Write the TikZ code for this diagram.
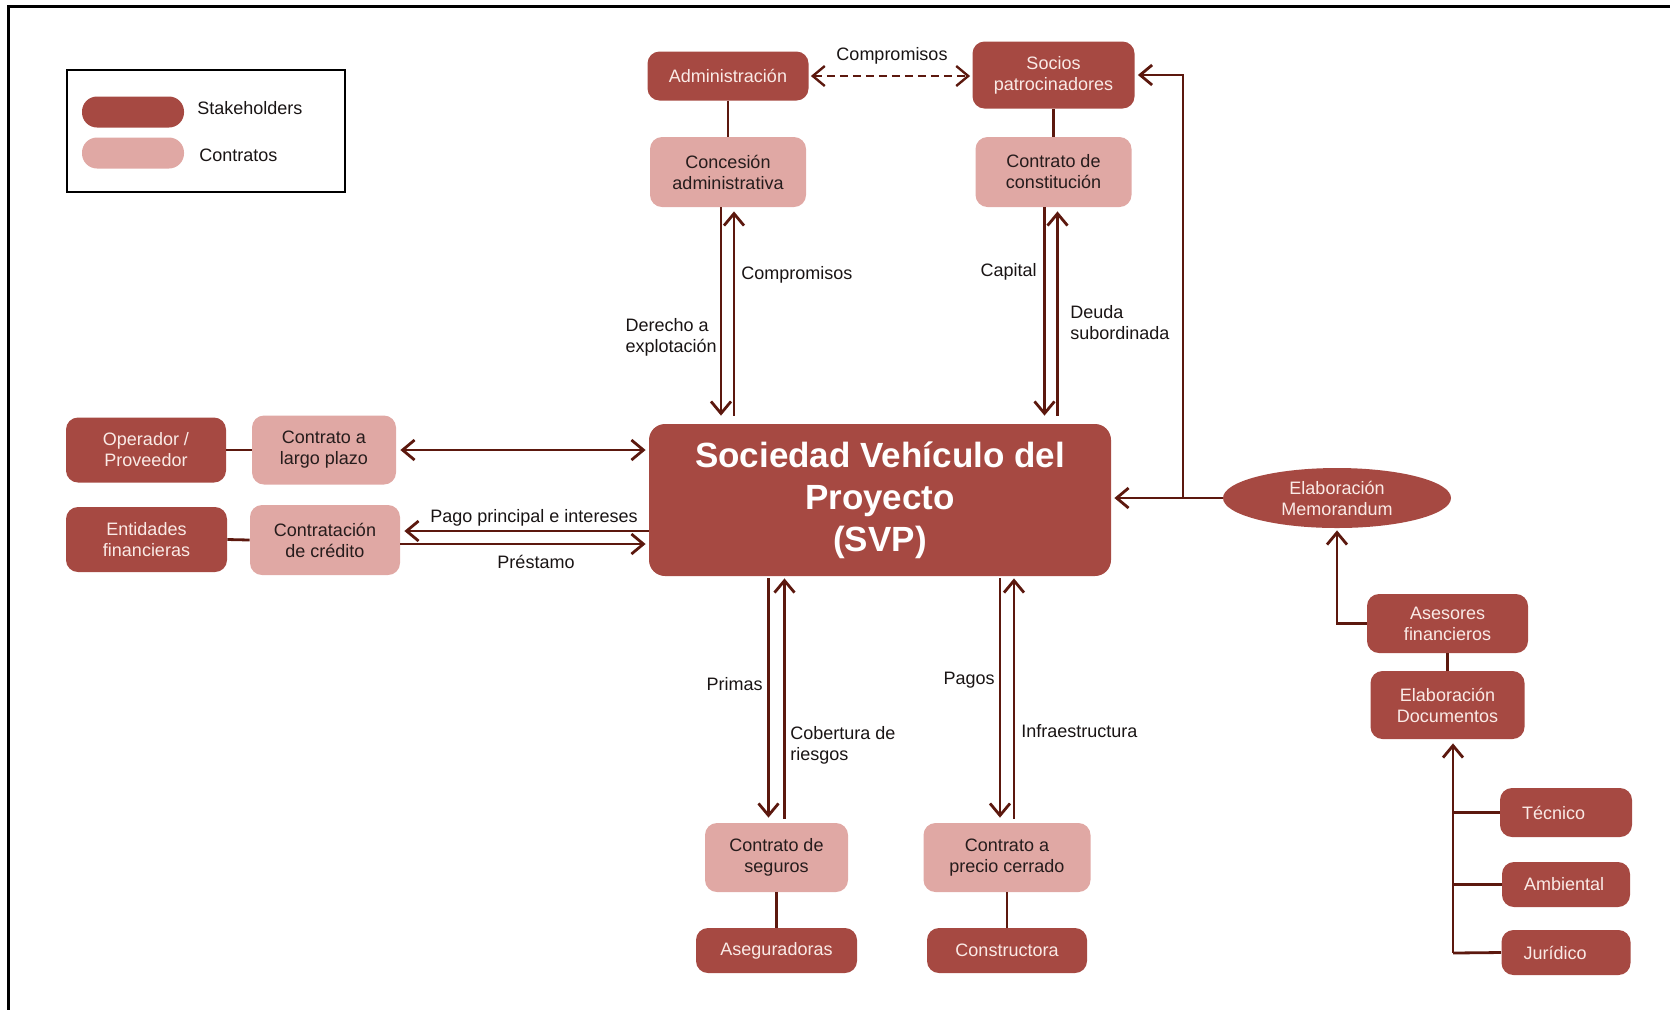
\documentclass[tikz,border=0pt]{standalone}
\usepackage{fontspec}
\setmainfont{Liberation Sans}
\usetikzlibrary{arrows.meta,shapes.geometric,calc}

\definecolor{stakefill}{RGB}{166,73,66}
\definecolor{stakefg}{RGB}{250,234,230}
\definecolor{contractfill}{RGB}{224,168,164}
\definecolor{contractfg}{RGB}{38,28,28}
\definecolor{flowc}{RGB}{92,24,14}
\definecolor{labelfg}{RGB}{25,20,20}

\tikzset{
  base/.style={align=center, inner sep=0pt, font=\fontsize{9}{10.5}\selectfont},
  stake/.style={base, rounded corners=6pt, fill=stakefill, text=stakefg},
  contract/.style={base, rounded corners=6pt, fill=contractfill, text=contractfg},
  lbl/.style={font=\fontsize{9}{10.5}\selectfont, text=labelfg, inner sep=0pt, align=left},
  flow/.style={draw=flowc, line width=1.4pt},
  treebox/.style={stake, align=left, inner xsep=11pt},
}

\begin{document}
\begin{tikzpicture}[x=0.5pt,y=-0.5pt, >={Straight Barb[length=6pt,width=10pt]}]
\useasboundingbox (0,0) rectangle (1670,1009);

% page frame
\draw[line width=1.5pt] (8,1015) -- (8,6) -- (1675,6);

% legend
\node[draw=black, line width=1pt, minimum width=139pt, minimum height=61pt, inner sep=0pt] (legend) at (206,131) {};
\node[fill=stakefill, rounded corners=7.5pt, minimum width=51pt, minimum height=15.5pt, inner sep=0pt] (swS) at (133,112) {};
\node[fill=contractfill, rounded corners=7.5pt, minimum width=51pt, minimum height=15.5pt, inner sep=0pt] (swC) at (133,153) {};
\node[lbl, anchor=west] (lblS) at (197,108) {Stakeholders};
\node[lbl, anchor=west] (lblC) at (199,155) {Contratos};

% top stakeholders and contracts
\node[stake, minimum width=80.5pt, minimum height=24.5pt] (adm) at (728,76) {Administración};
\node[stake, minimum width=81pt, minimum height=33.5pt] (socios) at (1053.5,75) {Socios\\patrocinadores};
\node[contract, minimum width=78pt, minimum height=35pt] (conc) at (728,172) {Concesión\\administrativa};
\node[contract, minimum width=78pt, minimum height=35pt] (const) at (1053.5,172) {Contrato de\\constitución};

% central company
\node[rounded corners=8pt, fill=stakefill, text=white, align=center, inner sep=0pt,
      font=\fontsize{17.5}{21}\selectfont\bfseries, minimum width=231pt, minimum height=76pt] (svp) at (880,500)
      {Sociedad Vehículo del\\Proyecto\\(SVP)};

% left side
\node[stake, minimum width=80pt, minimum height=32.5pt] (oper) at (146,450) {Operador /\\Proveedor};
\node[contract, minimum width=72pt, minimum height=34.5pt] (clp) at (324,450) {Contrato a\\largo plazo};
\node[stake, minimum width=80.5pt, minimum height=32.5pt] (ent) at (146.5,539.5) {Entidades\\financieras};
\node[contract, minimum width=75pt, minimum height=35pt] (ccred) at (325,540) {Contratación\\de crédito};

% bottom
\node[contract, minimum width=71.5pt, minimum height=34.5pt] (cseg) at (776.5,857.5) {Contrato de\\seguros};
\node[stake, minimum width=80.5pt, minimum height=22.5pt] (aseg) at (776.5,950.5) {Aseguradoras};
\node[contract, minimum width=83.5pt, minimum height=34.5pt] (cprec) at (1007,857.5) {Contrato a\\precio cerrado};
\node[stake, minimum width=80pt, minimum height=22.5pt] (constr) at (1007,950.5) {Constructora};

% right side
\node[ellipse, fill=stakefill, text=stakefg, base, minimum width=114pt, minimum height=30pt] (memo) at (1337,498) {Elaboración\\Memorandum};
\node[stake, minimum width=80.5pt, minimum height=29.5pt] (ases) at (1447.5,623.5) {Asesores\\financieros};
\node[stake, minimum width=77pt, minimum height=34pt] (edoc) at (1447.5,705) {Elaboración\\Documentos};
\node[treebox, text width=44pt, minimum height=24.5pt] (tec) at (1566,812.5) {Técnico};
\node[treebox, text width=42pt, minimum height=22.5pt] (amb) at (1566,884.5) {Ambiental};
\node[treebox, text width=42.5pt, minimum height=22.5pt] (jur) at (1566,952.5) {Jurídico};

% top connections
\draw[flow, <->, line width=1.2pt, dash pattern=on 4pt off 2.5pt, shorten <=1pt, shorten >=1pt]
  (adm.east) -- (adm.east -| socios.west);
\node[lbl] (tcomp) at (892,56) {Compromisos};
\draw[flow] (adm.south) -- (conc.north);
\draw[flow] (socios.south) -- (const.north);

% concession <-> SVP
\draw[flow, ->] ([xshift=-3.5pt]conc.south) -- ([xshift=-3.5pt,yshift=4pt]conc.south |- svp.north);
\draw[flow, ->] ([xshift=3pt,yshift=4pt]conc.south |- svp.north) -- ([xshift=3pt,yshift=-2pt]conc.south);
\node[lbl, anchor=west] (tcomp2) at (741,275) {Compromisos};
\node[lbl, anchor=east] (tder) at (717,337) {Derecho a\\explotación};

% constitution <-> SVP
\draw[flow, ->] ([xshift=-4.5pt]const.south) -- ([xshift=-4.5pt,yshift=4pt]const.south |- svp.north);
\draw[flow, ->] ([xshift=2pt,yshift=4pt]const.south |- svp.north) -- ([xshift=2pt,yshift=-2pt]const.south);
\node[lbl, anchor=east] (tcap) at (1037,272) {Capital};
\node[lbl, anchor=west] (tdeu) at (1070,323) {Deuda\\subordinada};

% SVP <-> insurance
\draw[flow, ->] ([xshift=-4pt,yshift=-1pt]cseg.north |- svp.south) -- ([xshift=-4pt,yshift=2.5pt]cseg.north);
\draw[flow, ->] ([xshift=4pt,yshift=2pt]cseg.north) -- ([xshift=4pt,yshift=-1pt]cseg.north |- svp.south);
\node[lbl, anchor=east] (tpri) at (763,684) {Primas};
\node[lbl, anchor=west] (tcob) at (790,745) {Cobertura de\\riesgos};
\draw[flow] (cseg.south) -- (aseg.north);

% SVP <-> construction
\draw[flow, ->] ([xshift=-3.5pt,yshift=-1pt]cprec.north |- svp.south) -- ([xshift=-3.5pt,yshift=2.5pt]cprec.north);
\draw[flow, ->] ([xshift=3.5pt,yshift=2pt]cprec.north) -- ([xshift=3.5pt,yshift=-1pt]cprec.north |- svp.south);
\node[lbl, anchor=east] (tpag) at (995,680) {Pagos};
\node[lbl, anchor=west] (tinf) at (1021,731) {Infraestructura};
\draw[flow] (cprec.south) -- (constr.north);

% left connections
\draw[flow] (oper.east) -- (clp.west);
\draw[flow] (ent.east) -- (ccred.west);
\draw[flow, <->, shorten <=2pt, shorten >=1.5pt] (clp.east) -- (clp.east -| svp.west);
\draw[flow, ->, shorten >=2pt] ([yshift=4.5pt]ccred.east -| svp.west) -- ([yshift=4.5pt]ccred.east);
\draw[flow, ->, shorten >=1.5pt] ([yshift=-2pt]ccred.east) -- ([yshift=-2pt]ccred.east -| svp.west);
\node[lbl] (tpago) at (534,518) {Pago principal e intereses};
\node[lbl] (tpres) at (536,562) {Préstamo};

% memorandum feeds SVP and sponsors
\coordinate (jn) at (1183,498);
\draw[flow, ->, shorten >=1.5pt] (memo.west) -- (memo.west -| svp.east);
\draw[flow, ->, shorten >=1.5pt] (jn) |- (socios.east);
\draw[flow, ->, shorten >=1pt] (ases.west) -| (memo.south);
\draw[flow] (ases.south) -- (edoc.north);

% technical, environmental and legal reports
\coordinate (trunk) at (1453,953);
\draw[flow] (tec.west) -- (tec.west -| trunk);
\draw[flow] (amb.west) -- (amb.west -| trunk);
\draw[flow] (jur.west) -- (trunk);
\draw[flow, ->, shorten >=2pt] (trunk) -- (trunk |- edoc.south);
\end{tikzpicture}
\end{document}
